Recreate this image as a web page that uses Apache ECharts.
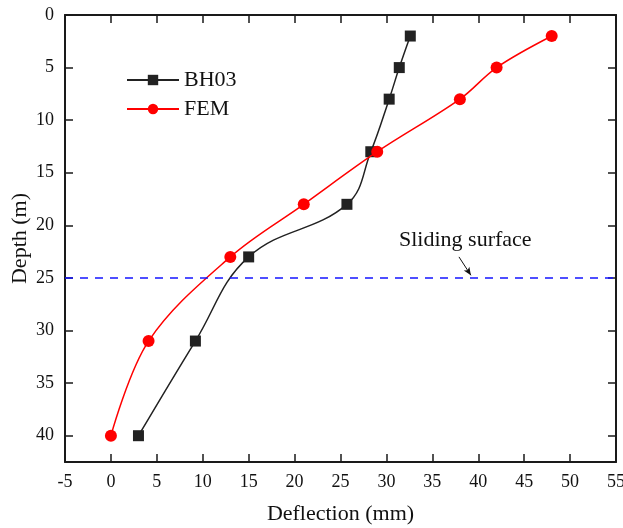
<!DOCTYPE html>
<html>
<head>
<meta charset="utf-8">
<script src="https://cdn.jsdelivr.net/npm/echarts@6/dist/echarts.min.js"></script>
<style>html,body{margin:0;padding:0;background:#fff;}#c{width:623px;height:528px;}</style>
</head>
<body>
<div id="c"></div>
<script>
// Data
var depths = [2, 5, 8, 13, 18, 23, 31, 40];
var bh03Deflection = [32.6, 31.4, 30.3, 28.3, 25.7, 15.0, 9.2, 3.0];
var femDeflection = [48.0, 42.0, 38.0, 29.0, 21.0, 13.0, 4.1, 0.0];
var slidingDepth = 25;
var xTicks = { min: -5, max: 55, interval: 5 };
var yTicks = { min: 0, max: 42.5, interval: 5 };

var FONT = 'Liberation Serif';
var INK = '#111111';

function pairs(xs, ys) { return xs.map(function (x, i) { return [x, ys[i]]; }); }

var chart = echarts.init(document.getElementById('c'), null, { renderer: 'canvas' });

var axisCommon = {
  type: 'value',
  axisLine: { show: true, onZero: false, lineStyle: { color: '#1a1a1a', width: 2 } },
  axisTick: { show: true, inside: true, length: 8, lineStyle: { color: '#1a1a1a', width: 1.5 } },
  splitLine: { show: false },
  axisLabel: { color: INK, fontFamily: FONT, fontSize: 18 }
};

chart.setOption({
  animation: false,
  backgroundColor: '#fff',
  grid: { left: 65, top: 15, right: 7, bottom: 66, containLabel: false, outerBoundsMode: 'none' },
  legend: {
    data: ['BH03', 'FEM'],
    orient: 'vertical',
    left: 121,
    top: 64,
    itemWidth: 52,
    itemHeight: 13,
    itemGap: 7,
    itemTextGap: 5,
    textStyle: { fontFamily: FONT, fontSize: 22, color: INK }
  },
  xAxis: [
    Object.assign({}, axisCommon, {
      position: 'bottom', min: xTicks.min, max: xTicks.max, interval: xTicks.interval,
      name: 'Deflection (mm)', nameLocation: 'middle', nameGap: 41, nameMoveOverlap: false,
      nameTextStyle: { fontFamily: FONT, fontSize: 22, color: INK },
      axisLabel: { color: INK, fontFamily: FONT, fontSize: 18, margin: 11 }
    }),
    Object.assign({}, axisCommon, {
      position: 'top', min: xTicks.min, max: xTicks.max, interval: xTicks.interval,
      axisLabel: { show: false }
    })
  ],
  yAxis: [
    Object.assign({}, axisCommon, {
      position: 'left', inverse: true, min: yTicks.min, max: yTicks.max, interval: yTicks.interval,
      name: 'Depth (m)', nameLocation: 'middle', nameGap: 34, nameRotate: 90, nameMoveOverlap: false,
      nameTextStyle: { fontFamily: FONT, fontSize: 22, color: INK },
      axisLabel: { color: INK, fontFamily: FONT, fontSize: 18, margin: 11, showMaxLabel: false }
    }),
    Object.assign({}, axisCommon, {
      position: 'right', inverse: true, min: yTicks.min, max: yTicks.max, interval: yTicks.interval,
      axisLabel: { show: false }
    })
  ],
  series: [
    {
      name: 'BH03', type: 'line', data: pairs(bh03Deflection, depths),
      smooth: 0.4, symbol: 'rect', symbolSize: 11,
      itemStyle: { color: '#222222' },
      lineStyle: { color: '#222222', width: 1.5 },
      z: 3
    },
    {
      name: 'FEM', type: 'line', data: pairs(femDeflection, depths),
      smooth: 0.35, symbol: 'circle', symbolSize: 12,
      itemStyle: { color: '#ff0000' },
      lineStyle: { color: '#ff0000', width: 1.5 },
      z: 4
    },
    {
      name: 'sliding', type: 'line', data: [], silent: true,
      markLine: {
        silent: true,
        animation: false,
        symbol: ['none', 'none'],
        label: { show: false },
        data: [
          { yAxis: slidingDepth, lineStyle: { color: '#1414ff', width: 1.6, type: [8, 7] } },
          [
            { coord: [37.9, 23.0], symbol: 'none' },
            { coord: [39.2, 24.75], symbol: 'arrow', symbolSize: [5, 8], lineStyle: { color: INK, width: 1, type: 'solid' } }
          ]
        ]
      }
    }
  ],
  graphic: [
    {
      type: 'text', left: 399, top: 229,
      style: { text: 'Sliding surface', fontFamily: FONT, fontSize: 22, fill: INK }
    }
  ]
});
</script>
</body>
</html>
